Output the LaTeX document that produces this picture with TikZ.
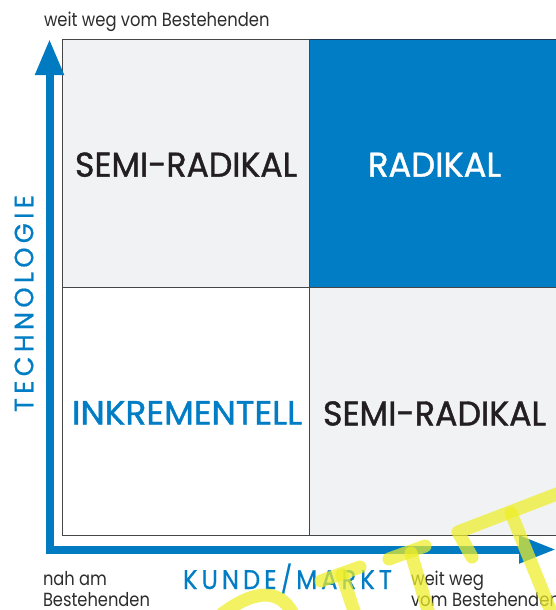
\documentclass[tikz,border=0pt]{standalone}
\usepackage{fontspec}
\setmainfont{Poppins}
\newfontfamily\heavy[FakeBold=1.2]{Poppins}
\newfontfamily\semiheavy[FakeBold=0.6]{Poppins}
\usepackage{graphicx}
\usetikzlibrary{arrows.meta}
\definecolor{ublue}{RGB}{0,125,196}
\definecolor{axblue}{RGB}{0,123,194}
\definecolor{cellgray}{RGB}{241,242,244}
\definecolor{txt}{RGB}{35,31,32}
\definecolor{smalltxt}{RGB}{45,45,45}
\definecolor{gridline}{RGB}{70,70,70}
\definecolor{navyline}{RGB}{30,55,85}
\definecolor{wm}{RGB}{238,238,40}
\newcommand{\fitw}[3]{\resizebox{#1}{\height}{\fontsize{#2}{#2}\selectfont #3}}
\newcommand{\tk}{\kern 4.5pt}
\begin{document}
\begin{tikzpicture}[x=1pt,y=-1pt,
  cell/.style={draw=gridline, line width=1pt, inner sep=0pt, outer sep=0pt},
  lbl/.style={inner sep=0pt, outer sep=0pt, text=txt, font=\heavy},
  small/.style={inner sep=0pt, outer sep=0pt, text=smalltxt, anchor=base west},
  axis/.style={draw=axblue, line width=8pt, line join=miter},
  axtitle/.style={inner sep=0pt, outer sep=0pt, text=ublue, font=\semiheavy},
  wmark/.style={draw=wm, line width=13pt, line cap=round, line join=round, opacity=0.72}]
\useasboundingbox (0,0) rectangle (556,610);
\clip (0,0) rectangle (556,610);
\fill[white] (0,0) rectangle (556,610);

% cells
\node[cell, fill=cellgray, minimum width=247.5pt, minimum height=247.5pt] (tl) at (185.75,163.25) {};
\node[cell, fill=ublue, minimum width=260.5pt, minimum height=247.5pt] (tr) at (439.75,163.25) {};
\node[cell, fill=white, minimum width=247.5pt, minimum height=248pt] (bl) at (185.75,411) {};
\node[cell, fill=cellgray, minimum width=260.5pt, minimum height=248pt] (br) at (439.75,411) {};
\draw[navyline, line width=1.6pt] (tr.north west) -- (tr.north east);

% cell labels
\node[lbl, anchor=base] (semi1) at (186,176.7) {\fitw{222pt}{34.4pt}{SEMI-RADIKAL}};
\node[lbl, anchor=base, text=white] (rad) at (434.5,176.7) {\fitw{133pt}{34.4pt}{RADIKAL}};
\node[lbl, anchor=base, text=ublue] (inkr) at (187,424.5) {\fitw{230pt}{33.5pt}{INKREMENTELL}};
\node[lbl, anchor=base] (semi2) at (434.5,425.5) {\fitw{223pt}{34.4pt}{SEMI-RADIKAL}};

% axes
\coordinate (ytip) at (49.5,39);
\coordinate (xtip) at (556,549.5);
\draw[axis, {Triangle[length=36pt,width=27pt]}-{Triangle[length=37pt,width=26pt]}] (ytip) |- (xtip);

% axis titles
\node[axtitle, rotate=90, anchor=center] (tech) at (24,303.5) {\fitw{217pt}{26.5pt}{T\tk E\tk C\tk H\tk N\tk O\tk L\tk O\tk G\tk I\tk E}};
\node[axtitle, anchor=base west] (kunde) at (183,589) {\fitw{209pt}{27pt}{K\tk U\tk N\tk D\tk E\tk /\tk M\tk A\tk R\tk K\tk T}};

% small texts
\node[small] (top) at (44,26.5) {\fitw{225.5pt}{19pt}{weit weg vom Bestehenden}};
\node[small] (nah1) at (43,585) {\fitw{64pt}{19pt}{nah am}};
\node[small] (nah2) at (43,606) {\fitw{107pt}{19pt}{Bestehenden}};
\node[small] (weit1) at (411,585) {\fitw{73pt}{19pt}{weit weg}};
\node[small] (weit2) at (411,606) {\fitw{149pt}{19pt}{vom Bestehenden}};

% yellow overlay strokes
\draw[wmark] (222,614) .. controls (248,594) and (278,584) .. (293,614);
\draw[wmark] (321,581) -- (360,567);
\draw[wmark] (342,575) -- (355,614);
\draw[wmark] (389,559) -- (425,546);
\draw[wmark] (411,553) -- (429,614);
\draw[wmark] (472,557) -- (458,532) -- (562,492);
\draw[wmark] (511,513) -- (552,614);
\end{tikzpicture}
\end{document}
